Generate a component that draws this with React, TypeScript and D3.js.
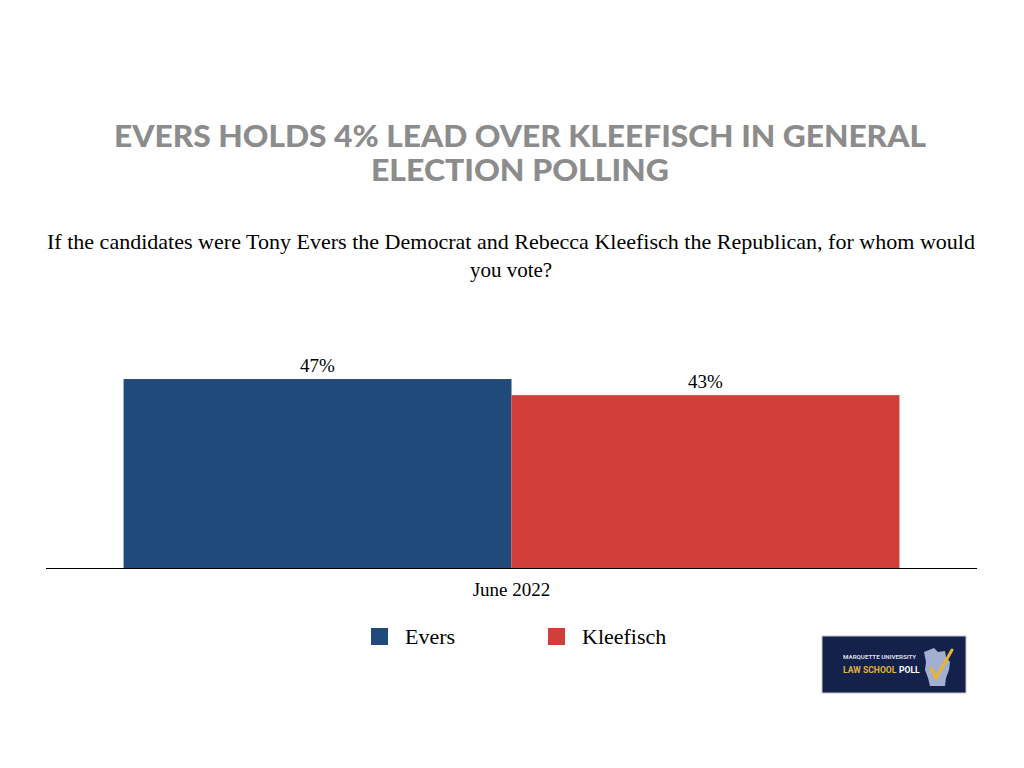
import React from "react";
import * as d3 from "d3";

const categories = ["June 2022"];
const seriesNames = ["Evers", "Kleefisch"];
const seriesValues = [47, 43];
const seriesColors = ["#1f4a7a", "#d03e3a"];

export default function App() {
  const W = 1024, H = 768;
  const x0 = d3.scaleBand().domain(categories).range([46, 977]).paddingInner(0).paddingOuter(0.1);
  const x1 = d3.scaleBand().domain(seriesNames).range([0, x0.bandwidth()]);
  const y = d3.scaleLinear().domain([0, 50]).range([568, 367]);
  return (
    <svg width={W} height={H} style={{ position: "absolute", left: 0, top: 0 }}>
      <rect width={W} height={H} fill="#fff" />
      <g fontFamily="Lato" fontWeight={900} fill="#8c8c8c" fontSize={30} textAnchor="middle">
        <text x={520} y={147} textLength={812} lengthAdjust="spacingAndGlyphs">EVERS HOLDS 4% LEAD OVER KLEEFISCH IN GENERAL</text>
        <text x={520} y={181} textLength={298} lengthAdjust="spacingAndGlyphs">ELECTION POLLING</text>
      </g>
      <g fontFamily="Liberation Serif" fontSize={21} fill="#000" textAnchor="middle">
        <text x={511} y={249} textLength={928} lengthAdjust="spacingAndGlyphs">If the candidates were Tony Evers the Democrat and Rebecca Kleefisch the Republican, for whom would</text>
        <text x={511} y={277}>you vote?</text>
      </g>
      {categories.map((c) => (
        <g key={c} transform={`translate(${x0(c)},0)`}>
          {seriesNames.map((s, i) => (
            <g key={s}>
              <rect x={x1(s)} y={y(seriesValues[i])} width={x1.bandwidth()} height={y(0) - y(seriesValues[i])} fill={seriesColors[i]} />
              <text x={(x1(s) ?? 0) + x1.bandwidth() / 2} y={y(seriesValues[i]) - 7} textAnchor="middle" fontFamily="Liberation Serif" fontSize={19}>{seriesValues[i]}%</text>
            </g>
          ))}
          <text x={x0.bandwidth() / 2} y={596} textAnchor="middle" fontFamily="Liberation Serif" fontSize={19}>{c}</text>
        </g>
      ))}
      <line x1={46} x2={977} y1={568.5} y2={568.5} stroke="#000" strokeWidth={1.2} />
      {seriesNames.map((s, i) => (
        <g key={s} transform={`translate(${371 + i * 177},628)`}>
          <rect width={17} height={17} fill={seriesColors[i]} />
          <text x={34} y={16} fontFamily="Liberation Serif" fontSize={22}>{s}</text>
        </g>
      ))}
      <g>
        <rect x={822} y={636} width={144} height={57} fill="#14214a" stroke="#c8c8d0" strokeWidth={1} />
        <text x={843} y={659} fontFamily="Roboto" fontWeight={700} fontSize={6.2} fill="#d8dce8">MARQUETTE UNIVERSITY</text>
        <text x={843} y={673} fontFamily="Roboto" fontWeight={700} fontSize={8.6} fill="#e0b23c">LAW SCHOOL</text>
        <text x={899} y={673} fontFamily="Roboto" fontWeight={700} fontSize={8.6} fill="#ffffff">POLL</text>
        <path d="M924,652 L934,648 L938,652 L945,651 L946,657 L950,662 L949,670 L946,678 L945,686 L930,686 L928,678 L925,670 L926,662 Z" fill="#a4aed0" />
        <path d="M931,668 L936,678 L952,650" fill="none" stroke="#e6b62f" strokeWidth={3} strokeLinecap="round" strokeLinejoin="round" />
      </g>
    </svg>
  );
}
